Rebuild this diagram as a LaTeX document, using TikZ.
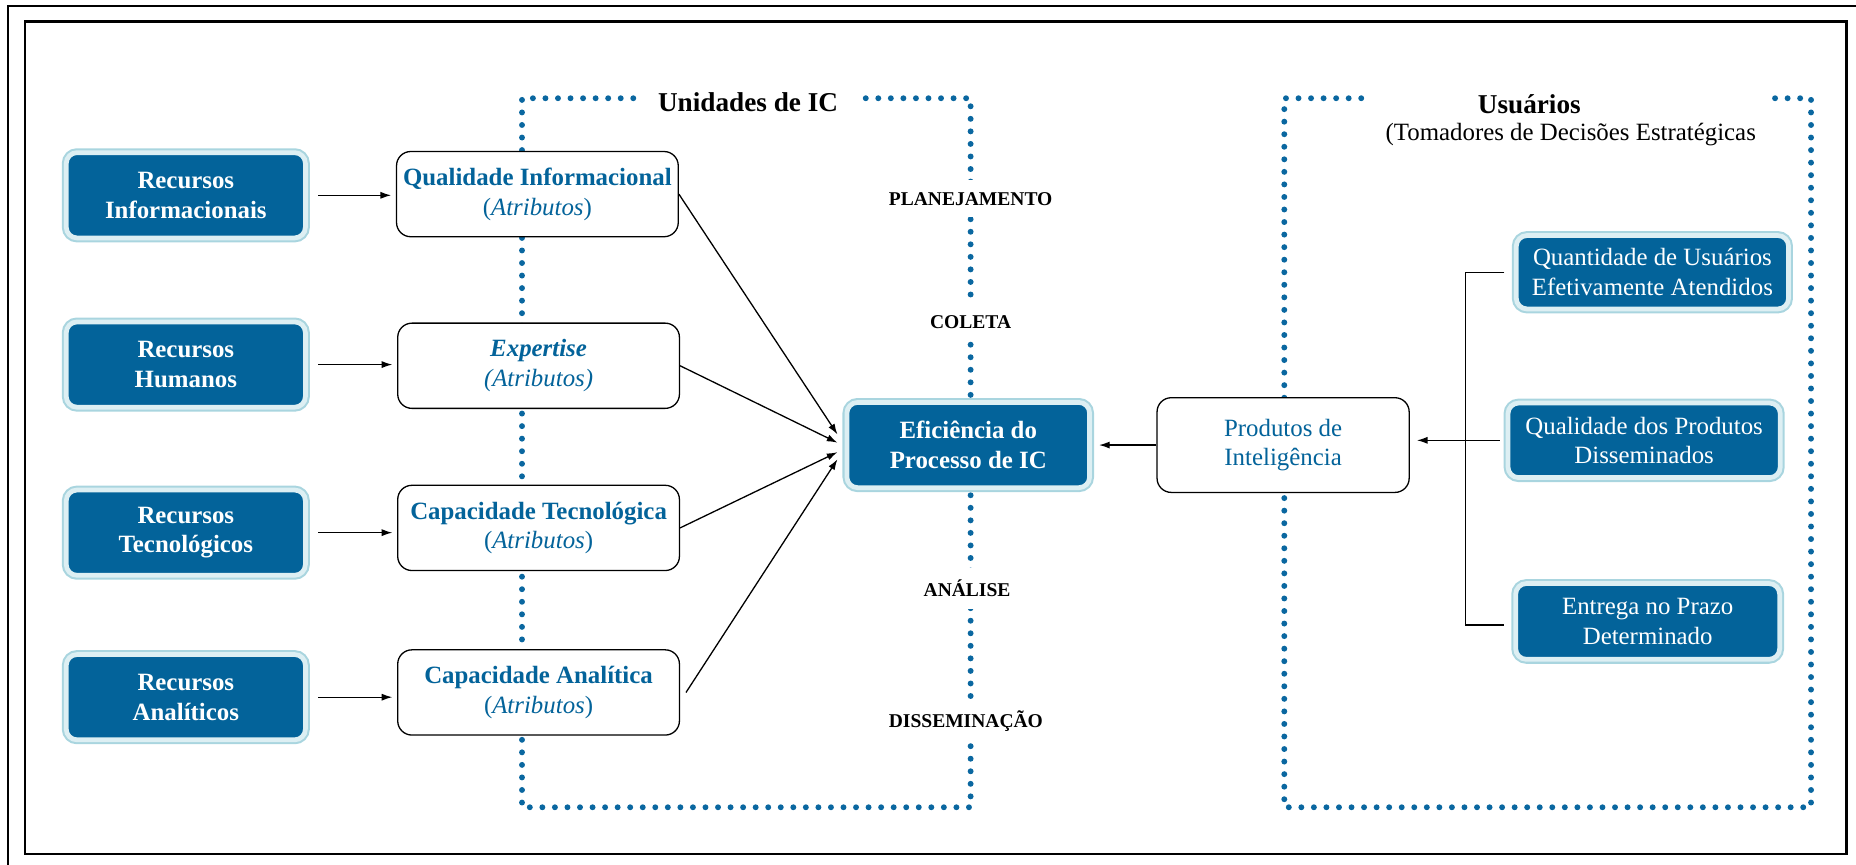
\documentclass[tikz,border=0pt]{standalone}
\usepackage{fontspec}
\setmainfont{Liberation Serif}
\usetikzlibrary{arrows.meta,calc}

\definecolor{icblue}{HTML}{03639A}
\definecolor{ringcyan}{HTML}{A9D5DF}
\definecolor{ringpale}{HTML}{DDEFF3}
\definecolor{dotblue}{HTML}{0A67A0}

\newcommand\fsmain{\fontsize{21}{25}\selectfont}
\newcommand\fsstage{\fontsize{16.5}{19}\selectfont\bfseries}
\newcommand\fstitle{\fontsize{23}{27}\selectfont\bfseries}

\tikzset{
  darkbox/.style={rounded corners=9pt, fill=icblue, draw=ringpale, line width=4pt,
    preaction={draw=ringcyan, line width=7.5pt}, text=white, align=center,
    inner sep=0pt, minimum height=72pt, font=\fsmain},
  whitebox/.style={rounded corners=12pt, fill=white, draw=black, line width=1.1pt,
    text=icblue, align=center, inner sep=0pt, minimum width=238pt, minimum height=72pt,
    font=\fsmain},
  dotline/.style={draw=dotblue, line width=5pt, line cap=round,
    dash pattern=on 0pt off 10.6pt},
  stage/.style={fill=white, inner xsep=2pt, inner ysep=10pt, font=\fsstage},
  arr/.style={line width=1.1pt, -{Latex[length=9pt,width=6pt]}},
  link/.style={line width=1pt}
}

\begin{document}
\begin{tikzpicture}[x=1pt,y=-1pt]
\useasboundingbox (0,0) rectangle (1568,730);

% page frames
\draw[line width=1.6pt] (7,5) rectangle (1600,760);
\draw[line width=2.2pt] (21,18) rectangle (1560,721.5);

% dotted outlines of the two areas
\draw[dotline] (535,83) -- (441,83) -- (441,682) -- (820,682) -- (820,83) -- (727,83);
\draw[dotline] (1150,83) -- (1085,83) -- (1085,682) -- (1530,682) -- (1530,83) -- (1495,83);

% area titles
\node[font=\fstitle] (unid) at (632,86) {Unidades de IC};
\node[font=\fstitle] (usu) at (1292,88) {Usuários};
\node[font=\fsmain] (tom) at (1327,114) {(Tomadores de Decisões Estratégicas};

% process stages
\node[stage] (plan) at (820,168) {PLANEJAMENTO};
\node[stage] (col) at (820,272) {COLETA};
\node[stage] (anl) at (817,497) {ANÁLISE};
\node[stage] (dis) at (816,609) {DISSEMINAÇÃO};

% resources
\node[darkbox, minimum width=202pt, font=\fsmain\bfseries] (ri) at (157,165) {Recursos\\Informacionais};
\node[darkbox, minimum width=202pt, font=\fsmain\bfseries] (rh) at (157,308) {Recursos\\Humanos};
\node[darkbox, minimum width=202pt, font=\fsmain\bfseries] (rt) at (157,450) {Recursos\\Tecnológicos};
\node[darkbox, minimum width=202pt, font=\fsmain\bfseries] (ra) at (157,589) {Recursos\\Analíticos};

% capabilities
\node[whitebox] (qi) at (454,164) {\textbf{Qualidade Informacional}\\(\textit{Atributos})};
\node[whitebox] (ex) at (455,309) {\textbf{\textit{Expertise}}\\\textit{(Atributos)}};
\node[whitebox] (ct) at (455,446) {\textbf{Capacidade Tecnológica}\\(\textit{Atributos})};
\node[whitebox] (ca) at (455,585) {\textbf{Capacidade Analítica}\\(\textit{Atributos})};

% process efficiency
\node[darkbox, minimum width=205pt, font=\fsmain\bfseries] (ef) at (818,376) {Eficiência do\\Processo de IC};

% intelligence products
\node[whitebox, minimum width=213pt, minimum height=80pt] (pi) at (1084,376) {Produtos de\\Inteligência};

% user-side indicators
\node[darkbox, minimum width=230pt, minimum height=62pt] (qu) at (1396,230) {Quantidade de Usuários\\Efetivamente Atendidos};
\node[darkbox, minimum width=230pt, minimum height=63pt] (qp) at (1389,372) {Qualidade dos Produtos\\Disseminados};
\node[darkbox, minimum width=223pt, minimum height=64pt] (ep) at (1392,525) {Entrega no Prazo\\Determinado};

% resources feed capabilities
\draw[arr] ([xshift=9pt]ri.east) -- ([xshift=-4pt]ri.east -| qi.west);
\draw[arr] ([xshift=9pt]rh.east) -- ([xshift=-4pt]rh.east -| ex.west);
\draw[arr] ([xshift=9pt]rt.east) -- ([xshift=-4pt]rt.east -| ct.west);
\draw[arr] ([xshift=9pt]ra.east) -- ([xshift=-4pt]ra.east -| ca.west);

% capabilities converge on process efficiency
\draw[arr] (qi.east) -- ([xshift=-6pt,yshift=9pt]ef.west);
\draw[arr] (ex.east) -- ([xshift=-6pt,yshift=2pt]ef.west);
\draw[arr] (ct.east) -- ([xshift=-6pt,yshift=-6pt]ef.west);
\draw[arr] ([xshift=5pt]ca.east) -- ([xshift=-6pt,yshift=-12pt]ef.west);

% products and users
\draw[arr] (pi.west) -- ([xshift=6pt]ef.east);
\draw[arr] ([xshift=-5pt]qp.west) -- ([xshift=6pt]qp.west -| pi.east);
\coordinate (brk) at (1238,0);
\draw[link] ([xshift=-8pt]qu.west) -- (qu.west -| brk) -- ([yshift=-3pt]ep.west -| brk) -- ([xshift=-8pt,yshift=-3pt]ep.west);
\end{tikzpicture}
\end{document}
